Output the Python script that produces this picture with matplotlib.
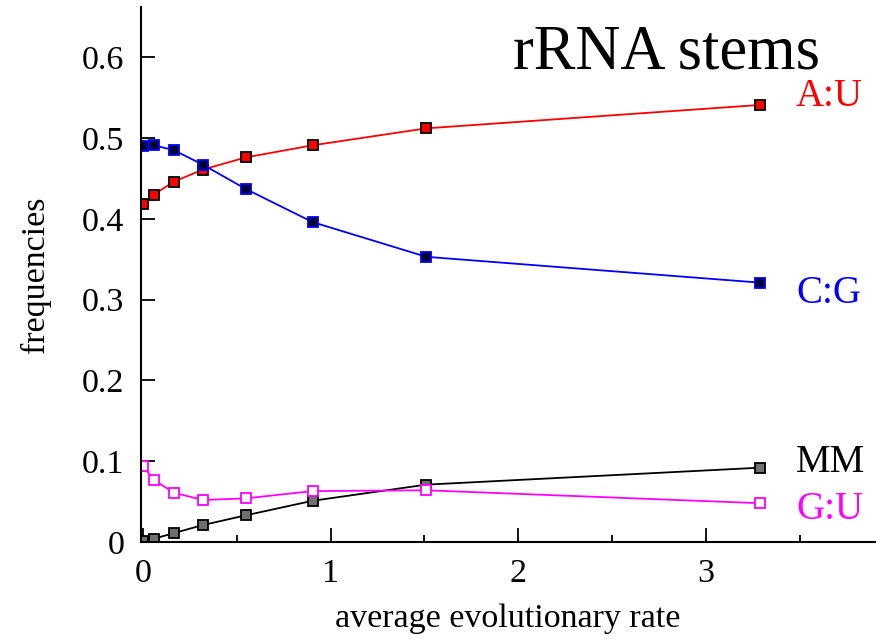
import matplotlib
matplotlib.use('Agg')
import matplotlib.pyplot as plt
from matplotlib.ticker import MultipleLocator

plt.rcParams['font.family'] = ['Liberation Serif', 'DejaVu Serif']

rate = [0, 0.058, 0.165, 0.32, 0.548, 0.904, 1.51, 3.29]
au = [0.418, 0.430, 0.446, 0.461, 0.476, 0.491, 0.512, 0.541]
cg = [0.490, 0.491, 0.485, 0.467, 0.437, 0.396, 0.353, 0.321]
mm = [0.001, 0.004, 0.011, 0.021, 0.033, 0.051, 0.071, 0.092]
gu = [0.094, 0.077, 0.061, 0.052, 0.054, 0.063, 0.064, 0.048]

fig = plt.figure(figsize=(8.83, 6.39), dpi=100)
ax = fig.add_axes([0.1597, 0.1518, 0.831, 0.837])

ax.plot(rate, au, color='red', lw=1.3, marker='s', ms=7, mfc='red', mec='black', mew=1.3)
ax.plot(rate, cg, color='blue', lw=1.3, marker='s', ms=7, mfc='#000033', mec='blue', mew=1.3)
ax.plot(rate, mm, color='black', lw=1.3, marker='s', ms=7, mfc='#707070', mec='black', mew=1.3)
ax.plot(rate, gu, color='magenta', lw=1.3, marker='s', ms=7, mfc='white', mec='magenta', mew=1.3)

ax.set_xlim(-0.01, 3.9)
ax.set_ylim(0, 0.662)
ax.spines['top'].set_visible(False)
ax.spines['right'].set_visible(False)
ax.spines['left'].set_linewidth(1.5)
ax.spines['bottom'].set_linewidth(1.5)
ax.xaxis.set_major_locator(MultipleLocator(1))
ax.xaxis.set_minor_locator(MultipleLocator(0.5))
ax.set_yticks([0, 0.1, 0.2, 0.3, 0.4, 0.5, 0.6])
ax.set_yticklabels(['0', '0.1', '0.2', '0.3', '0.4', '0.5', '0.6'])
ax.tick_params(which='major', direction='in', length=10, width=1.3, labelsize=24.5)
ax.tick_params(axis='y', pad=12)
ax.tick_params(axis='x', pad=12)
ax.tick_params(which='minor', direction='in', length=5, width=1.3)

ax.set_xlabel('average evolutionary rate', fontsize=24.5, labelpad=10)
ax.set_ylabel('frequencies', fontsize=24.5, labelpad=22)

ax.text(1.97, 0.605, 'rRNA stems', fontsize=45, va='center', ha='left')
ax.text(3.48, 0.551, 'A:U', fontsize=28, color='red', va='center')
ax.text(3.48, 0.308, 'C:G', fontsize=28, color='blue', va='center')
ax.text(3.48, 0.099, 'MM', fontsize=28, color='black', va='center')
ax.text(3.48, 0.040, 'G:U', fontsize=28, color='magenta', va='center')

fig.savefig('out.png', dpi=100)
